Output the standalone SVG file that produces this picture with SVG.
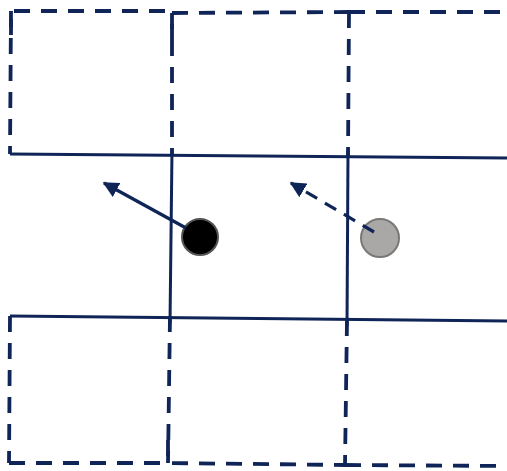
<svg xmlns="http://www.w3.org/2000/svg" width="507" height="471" viewBox="0 0 507 471">
  <defs>
    <marker id="ah" viewBox="0 0 10 10" refX="9" refY="5" markerWidth="5" markerHeight="5" orient="auto" markerUnits="strokeWidth">
      <path d="M0,0 L10,5 L0,10 z" fill="#0f2457"/>
    </marker>
    <style>
      .dash{fill:none;stroke:#0f2457;stroke-width:3.8;stroke-dasharray:16 11}
      .solid{fill:none;stroke:#0f2457;stroke-width:3}
      .conn{fill:none;stroke:#0f2457;stroke-width:3.2}
    </style>
  </defs>
  <rect width="507" height="471" fill="#ffffff"/>
  <g id="grid">
    <path class="dash" d="M11,35 L11,11 L172,11"/>
    <path class="dash" d="M172,40 L172,13 L349,12"/>
    <path class="dash" d="M349,12 L507,12"/>
    <path class="dash" d="M11,11 L10,154"/>
    <path class="dash" d="M10,316 L9,463"/>
    <path class="dash" d="M172,13 L172,154"/>
    <path class="dash" d="M170,316 L168,463"/>
    <path class="dash" d="M349,12 L348,156"/>
    <path class="dash" d="M347,320 L345,465"/>
    <path class="dash" d="M9,463 L168,463"/>
    <path class="dash" d="M168,440 L168,463 L345,465"/>
    <path class="dash" d="M345,465 L507,466"/>
    <path class="solid" d="M10,154 L507,158"/>
    <path class="solid" d="M10,316 L507,321"/>
    <path class="solid" d="M172,150 L170,323"/>
    <path class="solid" d="M348,151 L347,326"/>
  </g>
  <g id="node-black">
    <circle cx="200" cy="237" r="18" fill="#000000" stroke="#555555" stroke-width="2"/>
  </g>
  <g id="node-gray">
    <circle cx="380" cy="238" r="19" fill="#aaa8a6" stroke="#7a7876" stroke-width="2"/>
  </g>
  <g id="connectors">
    <path class="conn" d="M186,228 L104,183" marker-end="url(#ah)"/>
    <path class="conn" d="M374,232 L291,183" stroke-dasharray="13 9" marker-end="url(#ah)"/>
  </g>
</svg>
